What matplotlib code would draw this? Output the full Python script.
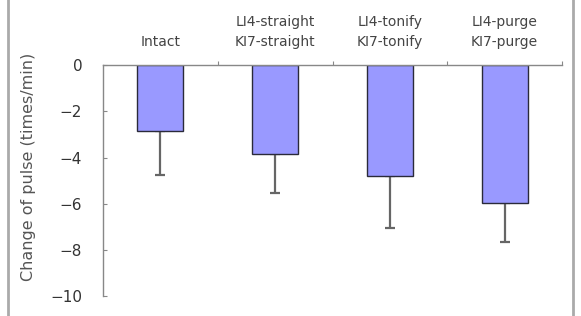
import numpy as np
import matplotlib
matplotlib.use("Agg")
import matplotlib.pyplot as plt
from matplotlib.lines import Line2D

# Data
groups = ["Intact", "LI4-straight\nKI7-straight", "LI4-tonify\nKI7-tonify", "LI4-purge\nKI7-purge"]
means = [-2.84, -3.83, -4.82, -5.97]
sds = [1.91, 1.71, 2.25, 1.69]
yticks = [0, -2, -4, -6, -8, -10]

plt.rcParams['font.family'] = ['DejaVu Sans']

fig = plt.figure(figsize=(5.81, 3.16), dpi=100)
ax = fig.add_axes([103 / 581, 1 - 296 / 316, (562 - 103) / 581, (296 - 65.3) / 316])

x = np.arange(len(groups))
ax.bar(x, means, width=0.4, color="#9999FF", edgecolor="#2a2a3a", linewidth=1.0, zorder=2)
ax.errorbar(x, means, yerr=[sds, np.zeros(len(sds))], fmt="none", ecolor="#666666",
            elinewidth=1.6, capsize=3.5, capthick=1.6, zorder=1)

ax.set_xlim(-0.5, len(groups) - 0.5)
ax.set_ylim(-10, 0)
ax.set_yticks(yticks)
ax.set_yticklabels([f"{v}".replace("-", "\u2212") for v in yticks])
ax.tick_params(axis="y", direction="in", length=3, color="#888888", labelsize=11,
               labelcolor="#333333", pad=15)

ax.xaxis.tick_top()
ax.set_xticks(np.arange(len(groups)) + 0.5)
ax.set_xticklabels([])
ax.tick_params(axis="x", direction="out", length=3, color="#888888")

for side in ["right", "bottom"]:
    ax.spines[side].set_visible(False)
for side in ["left", "top"]:
    ax.spines[side].set_color("#888888")
    ax.spines[side].set_linewidth(1.0)

# group labels above the bars
for xi, g in zip(x, groups):
    ax.annotate(g, xy=(xi, 1.0), xycoords=ax.get_xaxis_transform(),
                xytext=(0, 12), textcoords="offset points", ha="center", va="bottom",
                fontsize=10, color="#444444", linespacing=1.5)

ax.set_ylabel("Change of pulse (times/min)", fontsize=11.5, color="#555555")
ax.yaxis.set_label_coords(-0.145, 0.56)

# gray side frame lines of the chart area
for xf in [8 / 581, 573 / 581]:
    fig.add_artist(Line2D([xf, xf], [0, 1], color="#aaaaaa", linewidth=2, transform=fig.transFigure))

fig.savefig("out.png", dpi=100)
